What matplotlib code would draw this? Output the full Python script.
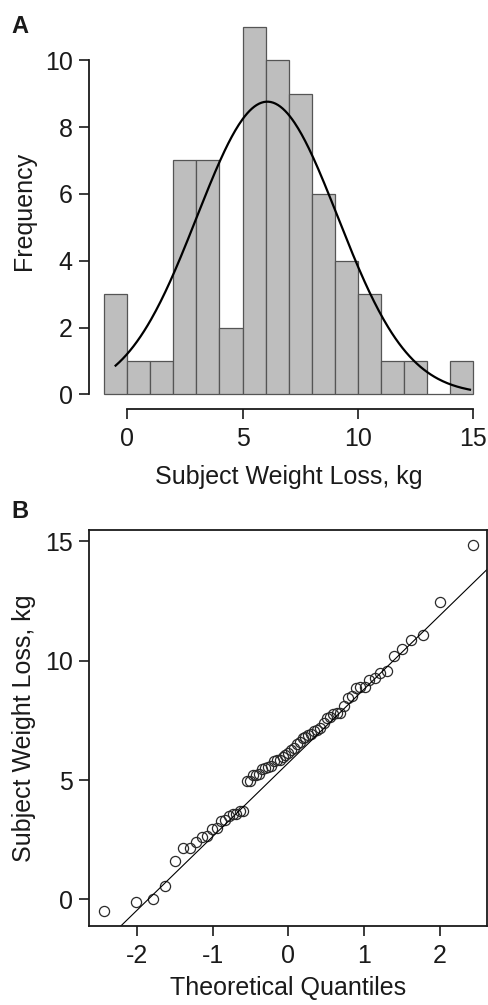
import numpy as np
import matplotlib
matplotlib.use("Agg")
import matplotlib.pyplot as plt
from statistics import NormalDist

plt.rcParams['font.family'] = ['Liberation Sans', 'DejaVu Sans']
plt.rcParams['axes.unicode_minus'] = False

# sorted weight loss per subject (kg)
weight_loss = [
    -0.50, -0.11, 0.00,
    0.58,
    1.59,
    2.14, 2.17, 2.40, 2.60, 2.67, 2.95, 2.98,
    3.27, 3.33, 3.50, 3.58, 3.58, 3.69, 3.72,
    4.94, 4.97,
    5.20, 5.22, 5.25, 5.45, 5.50, 5.55, 5.60, 5.80, 5.82, 5.85, 5.95,
    6.05, 6.15, 6.25, 6.35, 6.50, 6.60, 6.75, 6.80, 6.90, 6.95,
    7.05, 7.10, 7.20, 7.40, 7.60, 7.65, 7.75, 7.80, 7.80,
    8.10, 8.45, 8.52, 8.85, 8.90, 8.90,
    9.19, 9.29, 9.50, 9.57,
    10.19, 10.47, 10.85,
    11.06,
    12.47,
    14.86,
]
bin_edges = list(range(-1, 16))

hist_xticks = [0, 5, 10, 15]
hist_yticks = [0, 2, 4, 6, 8, 10]
qq_xticks = [-2, -1, 0, 1, 2]
qq_yticks = [0, 5, 10, 15]

x = np.array(weight_loss)
edges = np.array(bin_edges, dtype=float)
n = len(x)

# right-closed bins like R's hist()
idx = np.searchsorted(edges, x, side='left') - 1
idx = np.clip(idx, 0, len(edges) - 2)
counts = np.bincount(idx, minlength=len(edges) - 1)

TXT = '#1a1a1a'
FS = 18

fig = plt.figure(figsize=(4.88, 10.05), dpi=100)

## HISTOGRAM
ax1 = fig.add_axes([0.183, 0.593, 0.817, 0.395])
ax1.bar(edges[:-1], counts, width=np.diff(edges), align='edge',
        color='#bebebe', edgecolor='#555555', linewidth=0.9, zorder=2)

mu = x.mean()
sd = x.std(ddof=1)
xs = np.linspace(x.min(), x.max(), 300)
dens = np.exp(-0.5 * ((xs - mu) / sd) ** 2) / (sd * np.sqrt(2 * np.pi))
ax1.plot(xs, dens * n * 1.0, color='black', lw=1.6, zorder=3)

span = edges[-1] - edges[0]
ax1.set_xlim(edges[0] - 0.04 * span, edges[-1] + 0.04 * span)
ax1.set_ylim(-0.04 * counts.max(), counts.max() * 1.04)
for s in ['top', 'right']:
    ax1.spines[s].set_visible(False)
ax1.spines['left'].set_bounds(0, 10)
ax1.spines['bottom'].set_bounds(0, 15)
ax1.set_xticks(hist_xticks)
ax1.set_yticks(hist_yticks)
ax1.set_xlabel('Subject Weight Loss, kg', fontsize=FS, color=TXT, labelpad=10)
ax1.set_ylabel('Frequency', fontsize=FS, color=TXT, labelpad=6)
ax1.patch.set_visible(False)

## QQ PLOT
ax2 = fig.add_axes([0.183, 0.0786, 0.8156, 0.394])
theo = np.array([NormalDist().inv_cdf((i - 0.5) / n) for i in range(1, n + 1)])
ax2.plot(theo, np.sort(x), 'o', ms=7.3, mfc='none', mec='#2a2a2a', mew=0.9)

# reference line through the quartiles (qqline)
q1, q3 = np.percentile(x, [25, 75])
t1, t3 = NormalDist().inv_cdf(0.25), NormalDist().inv_cdf(0.75)
slope = (q3 - q1) / (t3 - t1)
icpt = q1 - slope * t1
ax2.axline((0, icpt), slope=slope, color='black', lw=0.8)

tspan = theo.max() - theo.min()
yspan = x.max() - x.min()
ax2.set_xlim(theo.min() - 0.04 * tspan, theo.max() + 0.04 * tspan)
ax2.set_ylim(x.min() - 0.04 * yspan, x.max() + 0.04 * yspan)
ax2.set_xticks(qq_xticks)
ax2.set_yticks(qq_yticks)
ax2.set_xlabel('Theoretical Quantiles', fontsize=FS, color=TXT, labelpad=6)
ax2.set_ylabel('Subject Weight Loss, kg', fontsize=FS, color=TXT, labelpad=6)

for ax in (ax1, ax2):
    for s in ax.spines.values():
        s.set_linewidth(1.3)
        s.set_color('#1a1a1a')
    ax.tick_params(direction='out', length=7, width=1.2, color='#1a1a1a',
                   labelsize=FS, labelcolor=TXT, pad=5)
    ax.tick_params(axis='x', pad=6)

fig.text(0.024, 0.985, 'A', fontsize=17, fontweight='bold', color=TXT, va='top')
fig.text(0.024, 0.502, 'B', fontsize=17, fontweight='bold', color=TXT, va='top')

fig.savefig('out.png', dpi=100)
